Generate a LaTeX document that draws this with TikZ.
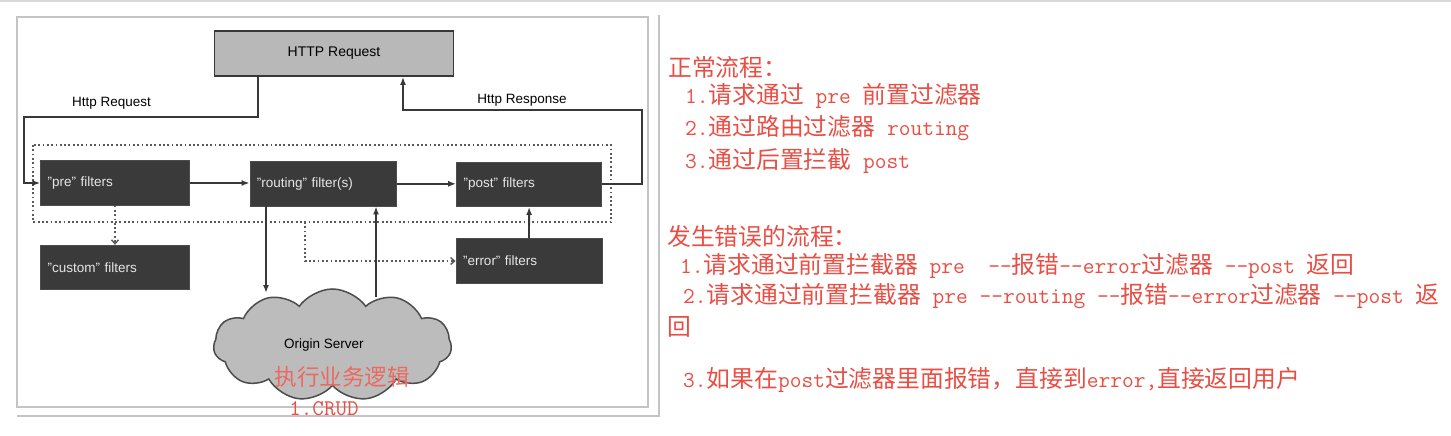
\documentclass[tikz,border=0pt]{standalone}
\usepackage{fontspec}
\setmainfont{Liberation Sans}
\newfontfamily\cjk{Noto Sans CJK SC}
\usetikzlibrary{arrows.meta,shapes.symbols}
\definecolor{boxfill}{HTML}{3A3A3A}
\definecolor{boxtext}{HTML}{E6E6E6}
\definecolor{linecol}{HTML}{383838}
\definecolor{httpfill}{HTML}{B8B8B8}
\definecolor{cloudfill}{HTML}{BCBCBC}
\definecolor{redtxt}{HTML}{E84E44}
\definecolor{framecol}{HTML}{C4C4C4}
\newcommand\Lt[1]{{\ttfamily\fontsize{22.8}{24}\selectfont #1}}
\newcommand\Zh{\cjk\fontsize{23.8}{26}\selectfont}
\tikzset{
  fbox/.style={draw=black!70, line width=0.8pt, fill=boxfill, text=boxtext,
    font=\fontsize{13.5}{15}\selectfont, minimum height=44.5pt,
    text width=#1, inner xsep=7pt, align=left},
  httpbox/.style={draw=linecol, line width=1.8pt, fill=httpfill,
    font=\fontsize{14}{15}\selectfont, minimum width=239pt, minimum height=45pt},
  lbl/.style={font=\fontsize{13.5}{15}\selectfont, inner sep=0pt},
  arr/.style={draw=linecol, line width=1.8pt, -{Latex[length=8pt,width=6pt]}},
  dotarr/.style={draw=black!65, line width=1.8pt, dash pattern=on 1.8pt off 2.5pt,
    -{Straight Barb[length=4pt,width=7pt,line width=1.4pt]}},
  rtext/.style={anchor=west, inner sep=0pt, text=redtxt, font=\Zh},
}
\begin{document}
\begin{tikzpicture}[x=1pt,y=-1pt]
\useasboundingbox (0,0) rectangle (1451,436);
% top separator
\draw[color=black!15, line width=2pt] (0,1.5) -- (1451,1.5);
% screenshot frame
\draw[framecol, line width=1.3pt] (17,17) rectangle (648,407);
\draw[framecol, line width=1.3pt] (17,416) -- (659,416) -- (659,15);

% dotted group rectangle
\draw[black!65, line width=1.8pt, dash pattern=on 1.8pt off 2.5pt] (33,145) rectangle (611,222);

% nodes
\node[httpbox] (http) at (334,53.5) {HTTP Request};
\node[fbox=134.6pt] (pre) at (115,183) {"pre" filters};
\node[fbox=132.5pt] (routing) at (323.2,183.8) {"routing" filter(s)};
\node[fbox=131.3pt] (post) at (529.2,184.3) {"post" filters};
\node[fbox=134.6pt] (custom) at (115,267.5) {"custom" filters};
\node[fbox=132pt] (error) at (529,261) {"error" filters};
\node[cloud, cloud puffs=11, cloud puff arc=110, aspect=2.2, draw=black!70,
  line width=1.5pt, fill=cloudfill, minimum width=238pt, minimum height=112pt,
  inner sep=0pt] (origin) at (332.5,345) {};
\node[lbl] (origintxt) at (324,345) {Origin Server};

% labels
\node[lbl] (lreq) at (111.5,103) {Http Request};
\node[lbl] (lresp) at (522,100) {Http Response};

% connectors
\coordinate (b1) at (257.6,117);
\coordinate (b2) at (24,117);
\draw[arr] (http.south -| b1) -- (b1) -- (b2) |- (pre.west);
\coordinate (c1) at (642,110);
\coordinate (c2) at (403,110);
\draw[arr] (post.east) -| (c1) -- (c2) -- (http.south -| c2);
\draw[arr] (pre.east) -- (pre.east -| routing.west);
\draw[arr] (routing.east) -- (routing.east -| post.west);
\coordinate (d1) at (266,293);
\draw[arr] (routing.south -| d1) -- (d1);
\coordinate (d2) at (376,297);
\draw[arr] (d2) -- (routing.south -| d2);
\draw[arr] (error) -- (post);
\draw[dotarr] (pre) -- (custom);
\coordinate (e1) at (305,222);
\draw[dotarr] (e1) |- (error.west);

% red annotations on the diagram
\node[inner sep=0pt, text=redtxt!85!white, font=\cjk\fontsize{22.5}{24}\selectfont] (biz) at (342,377) {执行业务逻辑};
\node[inner sep=0pt, text=redtxt, font=\ttfamily\fontsize{22.4}{24}\selectfont] (crud) at (324,409) {1.CRUD};

% right-hand notes
\node[rtext] (t1) at (668,67) {正常流程：};
\node[rtext] (t2) at (685,96) {\Lt{1.}请求通过\Lt{~pre~}前置过滤器};
\node[rtext] (t3) at (685,128) {\Lt{2.}通过路由过滤器\Lt{~routing}};
\node[rtext] (t4) at (685,161) {\Lt{3.}通过后置拦截\Lt{~post}};
\node[rtext] (t5) at (667,236) {发生错误的流程：};
\node[rtext] (t6) at (680,266) {\Lt{1.}请求通过前置拦截器\Lt{~pre~~--}报错\Lt{--error}过滤器\Lt{~--post~}返回};
\node[rtext] (t7) at (683,296) {\Lt{2.}请求通过前置拦截器\Lt{~pre~--routing~--}报错\Lt{--error}过滤器\Lt{~--post~}返};
\node[rtext] (t8) at (667,327) {回};
\node[rtext] (t9) at (683,380) {\Lt{3.}如果在\Lt{post}过滤器里面报错，直接到\Lt{error,}直接返回用户};
\end{tikzpicture}
\end{document}
